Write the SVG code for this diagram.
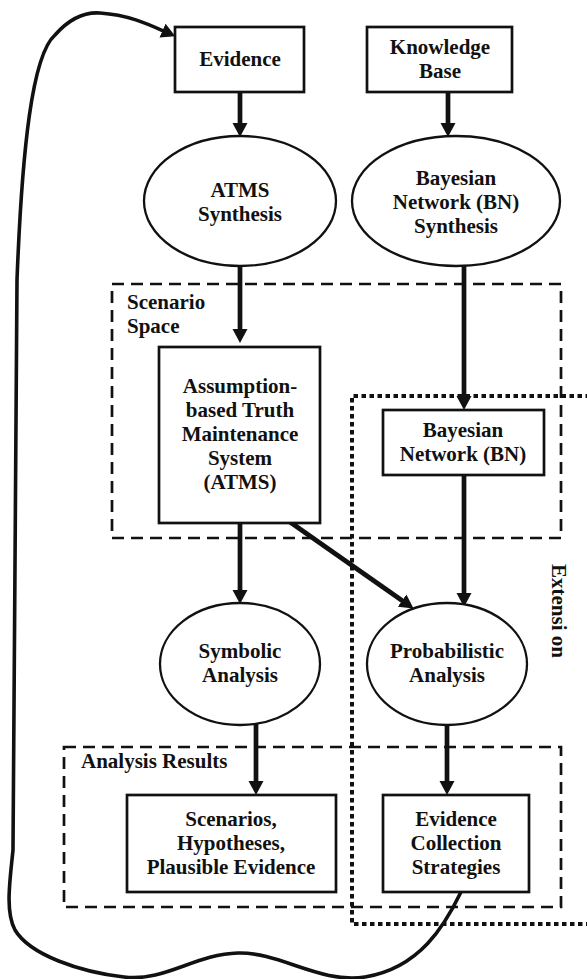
<svg xmlns="http://www.w3.org/2000/svg" width="587" height="979" viewBox="0 0 587 979">
<defs>
<marker id="ah" markerUnits="userSpaceOnUse" markerWidth="16" markerHeight="16" refX="6" refY="7.5" orient="auto" viewBox="0 0 16 16">
<path d="M0,0 L14,7.5 L0,15 z" fill="#111"/>
</marker>
</defs>
<style>
.box{fill:#fff;stroke:#111;stroke-width:2.7}
.ell{fill:#fff;stroke:#111;stroke-width:2.3}
.t{font-family:"Liberation Serif","Times New Roman",serif;font-weight:bold;font-size:21px;fill:#111;text-anchor:middle}
.lbl{font-family:"Liberation Serif","Times New Roman",serif;font-weight:bold;font-size:21px;fill:#111}
.dash{fill:none;stroke:#111;stroke-width:2.7;stroke-dasharray:12 7}
.dot{fill:none;stroke:#111;stroke-width:4;stroke-dasharray:4.5 3.5}
.arr{fill:none;stroke:#111;stroke-width:4.7;marker-end:url(#ah)}
.fb{fill:none;stroke:#111;stroke-width:3.6;marker-end:url(#ah)}
</style>
<rect width="587" height="979" fill="#fff"/>

<g id="groups">
<rect id="scenario-space" class="dash" x="112" y="284" width="449" height="254"/>
<text class="lbl" x="127" y="309">Scenario</text>
<text class="lbl" x="127" y="333">Space</text>
<rect id="analysis-results" class="dash" x="64" y="747" width="497" height="160"/>
<text class="lbl" x="81" y="768">Analysis Results</text>
<path id="extension" class="dot" d="M590 396 H352 V924 H590"/>
<text class="lbl" transform="translate(552,564) rotate(90)">Extensi on</text>
</g>

<g id="connectors">
<line class="arr" x1="240" y1="92" x2="240" y2="129"/>
<line class="arr" x1="448" y1="92" x2="448" y2="129"/>
<line class="arr" x1="240" y1="266" x2="240" y2="335"/>
<line class="arr" x1="464" y1="266" x2="464" y2="402"/>
<line class="arr" x1="240" y1="523" x2="240" y2="596"/>
<line class="arr" x1="290" y1="522" x2="407" y2="604"/>
<line class="arr" x1="464" y1="475" x2="464" y2="599"/>
<line class="arr" x1="256" y1="724" x2="256" y2="787"/>
<line class="arr" x1="447" y1="724" x2="447" y2="787"/>
<path class="fb" d="M461 892 C445 925 420 968 365 977 C320 984 280 952 238 953 C195 954 165 982 124 977 C80 972 30 955 15 930 C5 912 10 880 13 850 L17 280 C22 150 32 55 55 35 C70 18 85 12 100 13 C130 15 150 25 168 33"/>
</g>

<g id="evidence">
<rect class="box" x="175" y="27" width="129" height="65"/>
<text class="t" x="240" y="66">Evidence</text>
</g>
<g id="knowledge-base">
<rect class="box" x="367" y="27" width="145" height="65"/>
<text class="t" x="440" y="54">Knowledge</text>
<text class="t" x="440" y="78">Base</text>
</g>
<g id="atms-synthesis">
<ellipse class="ell" cx="240" cy="201" rx="96" ry="65"/>
<text class="t" x="240" y="197">ATMS</text>
<text class="t" x="240" y="221">Synthesis</text>
</g>
<g id="bn-synthesis">
<ellipse class="ell" cx="456" cy="201" rx="104" ry="65"/>
<text class="t" x="456" y="185">Bayesian</text>
<text class="t" x="456" y="209">Network (BN)</text>
<text class="t" x="456" y="233">Synthesis</text>
</g>
<g id="atms">
<rect class="box" x="159" y="347" width="161" height="176"/>
<text class="t" x="240" y="393">Assumption-</text>
<text class="t" x="240" y="417">based Truth</text>
<text class="t" x="240" y="441">Maintenance</text>
<text class="t" x="240" y="465">System</text>
<text class="t" x="240" y="489">(ATMS)</text>
</g>
<g id="bn">
<rect class="box" x="383" y="410" width="161" height="65"/>
<text class="t" x="463" y="437">Bayesian</text>
<text class="t" x="463" y="461">Network (BN)</text>
</g>
<g id="symbolic-analysis">
<ellipse class="ell" cx="240" cy="664" rx="80" ry="61"/>
<text class="t" x="240" y="658">Symbolic</text>
<text class="t" x="240" y="682">Analysis</text>
</g>
<g id="probabilistic-analysis">
<ellipse class="ell" cx="447" cy="664" rx="80" ry="61"/>
<text class="t" x="447" y="658">Probabilistic</text>
<text class="t" x="447" y="682">Analysis</text>
</g>
<g id="scenarios">
<rect class="box" x="127" y="795" width="209" height="97"/>
<text class="t" x="231" y="826">Scenarios,</text>
<text class="t" x="231" y="850">Hypotheses,</text>
<text class="t" x="231" y="874">Plausible Evidence</text>
</g>
<g id="evidence-collection">
<rect class="box" x="383" y="795" width="146" height="97"/>
<text class="t" x="456" y="826">Evidence</text>
<text class="t" x="456" y="850">Collection</text>
<text class="t" x="456" y="874">Strategies</text>
</g>
</svg>
